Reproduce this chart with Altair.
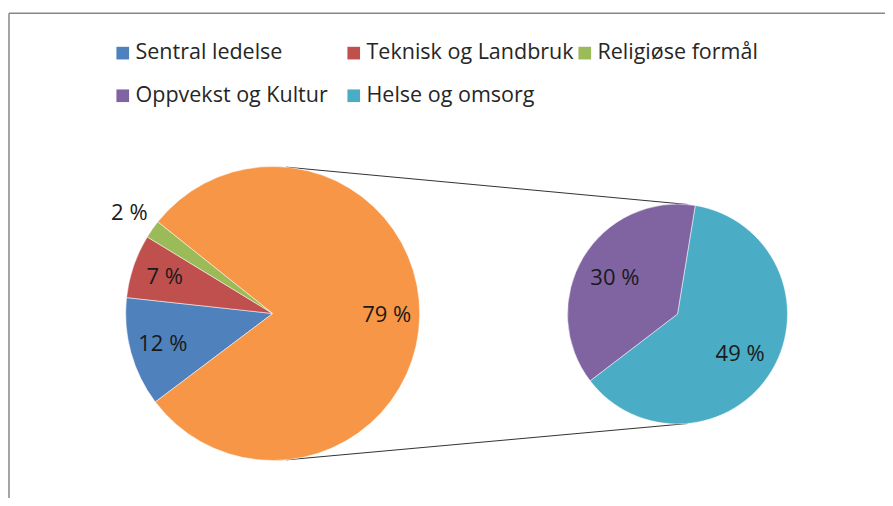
import math
import altair as alt
import pandas as pd

# ---- data ----
main_cats = ["Sentral ledelse", "Teknisk og Landbruk", "Religiøse formål", "Andre"]
main_vals = [12, 7, 2, 79]
sub_cats = ["Helse og omsorg", "Oppvekst og Kultur"]
sub_vals = [49, 30]
legend_order = ["Sentral ledelse", "Teknisk og Landbruk", "Religiøse formål",
                "Oppvekst og Kultur", "Helse og omsorg"]
all_cats = ["Sentral ledelse", "Teknisk og Landbruk", "Religiøse formål",
            "Oppvekst og Kultur", "Helse og omsorg", "Andre"]
all_colors = ["#4F81BD", "#C0504D", "#9BBB59", "#8064A2", "#4BACC6", "#F79646"]

# ---- layout (view pixel coordinates; page = view + 8) ----
W, H = 877, 490
C1 = (264.7, 305.5); R1 = 147
C2 = (669.5, 306.0); R2 = 110
START1 = math.radians(233.0)
START2 = math.radians(9.3)
FONT = "Open Sans"
FS = 22
LFS = 21.5

main_df = pd.DataFrame({"cat": main_cats, "value": main_vals, "ord": range(len(main_cats))})
sub_df = pd.DataFrame({"cat": sub_cats, "value": sub_vals, "ord": range(len(sub_cats))})

color = alt.Color(
    "cat:N",
    scale=alt.Scale(domain=all_cats, range=all_colors),
    legend=alt.Legend(
        values=legend_order, title=None, orient="none", legendX=104, legendY=34,
        direction="horizontal", columns=3, gridAlign="all", columnPadding=0, rowPadding=20,
        symbolType="square", symbolSize=160, symbolStrokeWidth=0, symbolOpacity=1,
        labelFont=FONT, labelFontSize=LFS, labelColor="#262626", labelOffset=2,
        labelLimit=400, padding=0,
    ),
)


def pie(df, c, r, start, total):
    sc = alt.Scale(domain=[0, total], range=[start, start + 2 * math.pi])
    arcs = alt.Chart(df).mark_arc(outerRadius=r, stroke="white", strokeWidth=0.5).encode(
        x=alt.value(c[0]), y=alt.value(c[1]),
        theta=alt.Theta("value:Q", stack=True, scale=sc),
        order=alt.Order("ord:Q"),
        color=color,
    )
    base = alt.Chart(df).transform_window(
        cum="sum(value)", sort=[alt.SortField("ord")], frame=[None, 0]
    ).transform_calculate(
        mid="datum.cum - datum.value/2",
        label="format(datum.value, 'd') + ' %'",
    )
    return arcs, base, sc


arcs1, base1, sc1 = pie(main_df, C1, R1, START1, sum(main_vals))
arcs2, base2, sc2 = pie(sub_df, C2, R2, START2, sum(sub_vals))

txt_kw = dict(font=FONT, fontSize=FS, color="#1a1a1a", align="center", baseline="middle")

lab1_in = base1.transform_filter("datum.value >= 5").mark_text(radius=114, **txt_kw).encode(
    x=alt.value(C1[0]), y=alt.value(C1[1]),
    theta=alt.Theta("mid:Q", stack=None, scale=sc1), text="label:N")
lab1_out = base1.transform_filter("datum.value < 5").mark_text(radius=175, **txt_kw).encode(
    x=alt.value(C1[0]), y=alt.value(C1[1]),
    theta=alt.Theta("mid:Q", stack=None, scale=sc1), text="label:N")
lab2 = base2.mark_text(radius=73, dy=2, **txt_kw).encode(
    x=alt.value(C2[0]), y=alt.value(C2[1]),
    theta=alt.Theta("mid:Q", stack=None, scale=sc2), text="label:N")

# connector lines: external tangents of the two pies
d = math.hypot(C2[0] - C1[0], C2[1] - C1[1])
s = (R1 - R2) / d
co = math.sqrt(1 - s * s)
dummy = alt.Data(values=[{"k": 1}])
conns = []
for sign in (-1, 1):
    conns.append(alt.Chart(dummy).mark_rule(color="#333333", strokeWidth=1).encode(
        x=alt.value(C1[0] + R1 * s), y=alt.value(C1[1] + sign * R1 * co),
        x2=alt.value(C2[0] + R2 * s), y2=alt.value(C2[1] + sign * R2 * co)))

# chart frame (top and left edges visible)
frame_top = alt.Chart(dummy).mark_rule(color="#878787", strokeWidth=1.5).encode(
    x=alt.value(1), x2=alt.value(W), y=alt.value(5.3))
frame_left = alt.Chart(dummy).mark_rule(color="#878787", strokeWidth=1.5).encode(
    x=alt.value(1), y=alt.value(5.3), y2=alt.value(H))

chart = alt.layer(
    frame_top, frame_left, *conns, arcs1, arcs2, lab1_in, lab1_out, lab2
).resolve_scale(theta="independent").properties(
    width=W, height=H, background="white",
    autosize=alt.AutoSizeParams(type="none"),
    padding=0,
).configure_view(strokeWidth=0)

chart.save("out.html", embed_options={"renderer": "svg", "actions": False})
